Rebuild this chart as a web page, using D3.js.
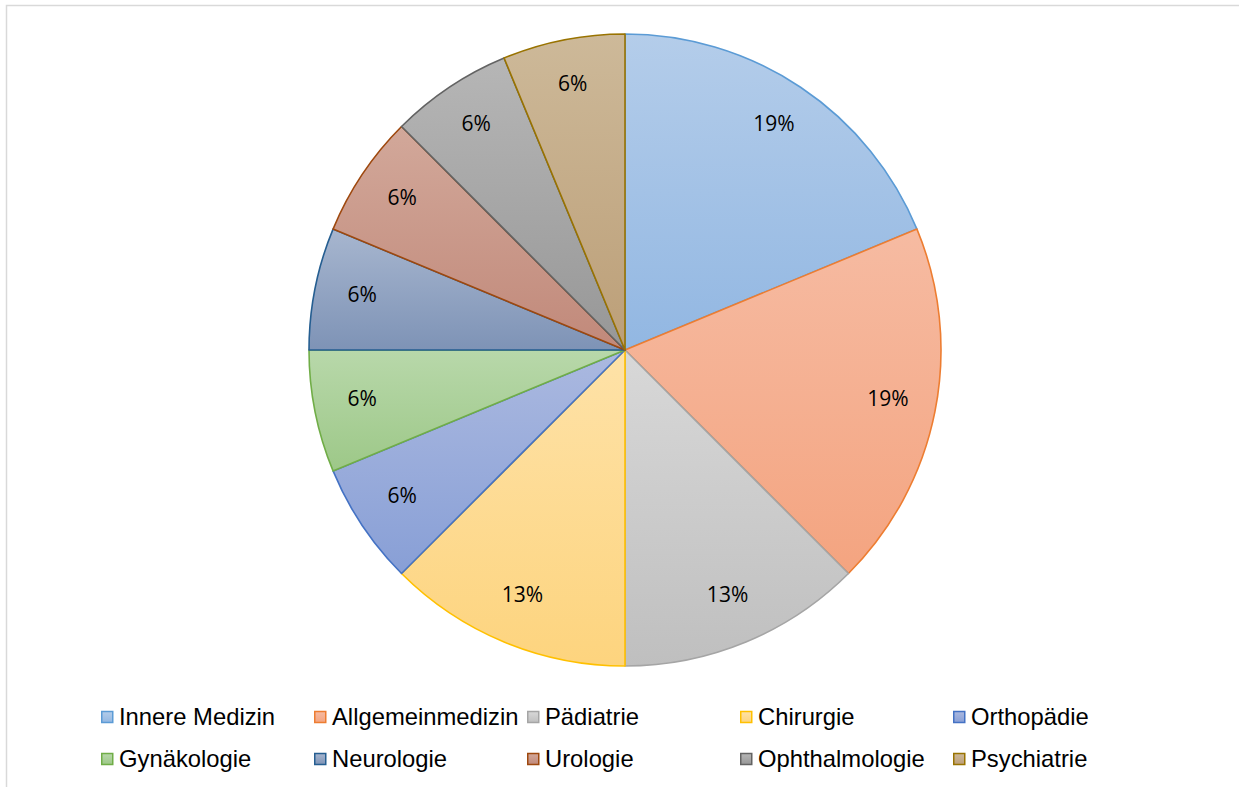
<!DOCTYPE html>
<html><head><meta charset="utf-8">
<script src="https://cdn.jsdelivr.net/npm/d3@7"></script>
<style>html,body{margin:0;padding:0;background:#fff;overflow:hidden}</style>
</head><body>
<svg id="chart" width="1239" height="787"></svg>
<script>
// ---- data ----
const categories = ["Innere Medizin","Allgemeinmedizin","Pädiatrie","Chirurgie","Orthopädie","Gynäkologie","Neurologie","Urologie","Ophthalmologie","Psychiatrie"];
const counts = [3,3,2,2,1,1,1,1,1,1];
// ---- styles ----
const strokeColors = ["#5b9bd5","#ed7d31","#a5a5a5","#ffc000","#4472c4","#70ad47","#255e91","#9e480e","#636363","#997300"];
const fillTop =    ["#b4cdea","#f6bba2","#d8d8d8","#fee2a8","#abb9e0","#b8d8aa","#a7b6cf","#d2a89a","#b6b6b6","#cdb999"];
const fillBottom = ["#92b7e2","#f4a480","#bfbfbf","#fdd47e","#889fd6","#9dc888","#7e93b6","#c1897a","#979797","#bc9f78"];

const svg = d3.select("#chart");
const W = 1239, H = 787;
svg.append("rect").attr("x",6.5).attr("y",5.5).attr("width",W).attr("height",H)
  .attr("fill","#fff").attr("stroke","#d9d9d9").attr("stroke-width",1.5);

const defs = svg.append("defs");
categories.forEach((c,i)=>{
  const g = defs.append("linearGradient").attr("id","g"+i)
    .attr("x1",0).attr("y1",0).attr("x2",0).attr("y2",1);
  g.append("stop").attr("offset","0%").attr("stop-color",fillTop[i]);
  g.append("stop").attr("offset","100%").attr("stop-color",fillBottom[i]);
});

const cx = 625, cy = 350, R = 316;
const total = d3.sum(counts);
const pie = d3.pie().sort(null).value(d=>d.v);
const arcs = pie(categories.map((c,i)=>({c, v:counts[i], i})));
const arc = d3.arc().innerRadius(0).outerRadius(R);
const labelArc = d3.arc().innerRadius(268).outerRadius(268);

const g = svg.append("g").attr("transform",`translate(${cx},${cy})`);
g.selectAll("path.slice").data(arcs).join("path").attr("class","slice")
  .attr("d",arc)
  .attr("fill",d=>`url(#g${d.data.i})`)
  .attr("stroke",d=>strokeColors[d.data.i])
  .attr("stroke-width",1.6)
  .attr("stroke-linejoin","round");

const fmt = v => Math.round(v/total*100) + "%";
g.selectAll("text.lbl").data(arcs).join("text").attr("class","lbl")
  .attr("transform",d=>{ const [x,y] = labelArc.centroid(d); return `translate(${x},${y-4})`; })
  .attr("text-anchor","middle").attr("dominant-baseline","central")
  .attr("font-family","'Open Sans', sans-serif").attr("font-size",21)
  .attr("fill","#000")
  .text(d=>fmt(d.data.v));

// legend
const colX = [101, 314, 527, 740, 953];
const rowY = [717, 759];
const leg = svg.append("g");
categories.forEach((c,i)=>{
  const col = i % 5, row = Math.floor(i/5);
  const x = colX[col], y = rowY[row];
  leg.append("rect").attr("x",x+0.75).attr("y",y-5.5).attr("width",11).attr("height",11)
    .attr("fill",`url(#g${i})`).attr("stroke",strokeColors[i]).attr("stroke-width",1.5);
  leg.append("text").attr("x",x+18).attr("y",y+7.5)
    .attr("font-family","'Liberation Sans', Arial, sans-serif").attr("font-size",23.8)
    .attr("fill","#000").text(c);
});
</script>
</body></html>
